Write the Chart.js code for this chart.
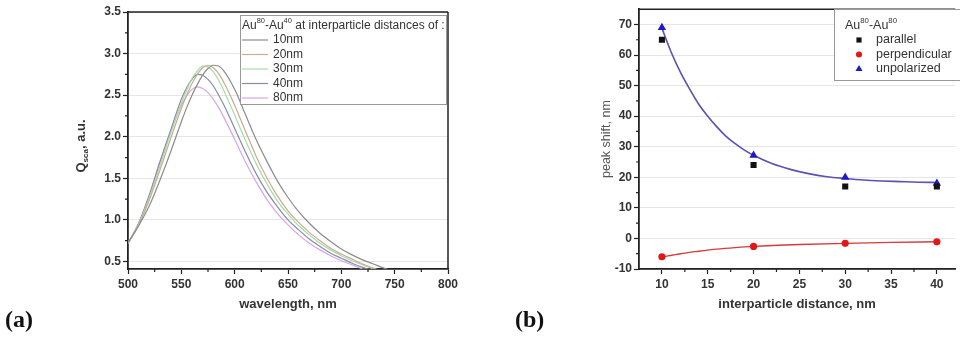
<!DOCTYPE html>
<html>
<head>
<meta charset="utf-8">
<script src="https://cdn.jsdelivr.net/npm/chart.js@4.4.0/dist/chart.umd.min.js"></script>
<style>
  body { margin: 0; background: #fff; width: 960px; height: 340px; overflow: hidden; position: relative; }
  .wrap { position: absolute; top: 0; width: 480px; height: 340px; }
  .tag { position: absolute; font: bold 24px "Liberation Serif", "DejaVu Serif", serif; color: #111; }
</style>
</head>
<body>
<div class="wrap" style="left:0"><canvas id="chartA" width="480" height="340"></canvas></div>
<div class="wrap" style="left:480px"><canvas id="chartB" width="480" height="340"></canvas></div>
<div class="tag" style="left:5px;top:306px">(a)</div>
<div class="tag" style="left:515px;top:306px">(b)</div>
<script>
/* ---------- DATA (a): scattering spectra ---------- */
const wavelength = [500,510,520,530,540,550,555,560,565,570,575,580,585,590,600,610,620,630,640,650,660,670,680,690,700,710,720,730,740,750];
const q10nm = [0.72,0.93,1.17,1.48,1.82,2.18,2.35,2.50,2.63,2.74,2.82,2.86,2.85,2.79,2.57,2.27,1.97,1.71,1.47,1.27,1.10,0.96,0.84,0.74,0.65,0.58,0.52,0.47,0.42,0.38];
const q20nm = [0.72,0.94,1.24,1.60,1.98,2.34,2.50,2.64,2.75,2.83,2.86,2.83,2.76,2.65,2.38,2.07,1.77,1.51,1.29,1.11,0.97,0.85,0.75,0.66,0.59,0.53,0.47,0.42,0.38,0.35];
const q30nm = [0.72,0.95,1.27,1.65,2.04,2.40,2.56,2.70,2.79,2.85,2.84,2.78,2.68,2.55,2.26,1.96,1.68,1.44,1.23,1.07,0.93,0.82,0.72,0.64,0.57,0.51,0.46,0.41,0.37,0.34];
const q40nm = [0.72,0.96,1.30,1.70,2.08,2.45,2.59,2.69,2.75,2.74,2.69,2.61,2.50,2.38,2.10,1.82,1.56,1.34,1.16,1.00,0.88,0.77,0.68,0.60,0.54,0.48,0.43,0.39,0.35,0.32];
const q80nm = [0.72,0.96,1.30,1.70,2.06,2.38,2.49,2.57,2.60,2.58,2.53,2.45,2.35,2.23,1.97,1.70,1.46,1.25,1.08,0.94,0.82,0.72,0.64,0.57,0.51,0.46,0.41,0.37,0.34,0.31];
const spectraLabels = ["10nm","20nm","30nm","40nm","80nm"];
const spectraColors = ["#8c8c8c","#c9ab91","#a6dca6","#8a8aa8","#d6a6e6"];
const xTicksA = [500,550,600,650,700,750,800];
const yTicksA = [0.5,1.0,1.5,2.0,2.5,3.0,3.5];

/* ---------- DATA (b): peak shift ---------- */
const distance = [10,20,30,40];
const parallel = [65,24,17,17];
const perpendicular = [-6,-2.6,-1.6,-1.1];
const unpolarized = [69,27.2,20,18];
const fitDistU = [10,11,12,13,14,15,16,17,18,19,20,22,24,26,28,30,32,34,36,38,40];
const fitUnpol = [68.8,61,54.5,49,44,40,36.5,33.4,31,28.9,27.2,24.5,22.6,21.2,20.2,19.6,19.1,18.8,18.6,18.4,18.3];
const fitDistP = [10,12,14,16,18,20,25,30,35,40];
const fitPerp = [-6.1,-5,-4.2,-3.5,-3,-2.6,-2,-1.6,-1.3,-1.1];
const xTicksB = [10,15,20,25,30,35,40];
const yTicksB = [-10,0,10,20,30,40,50,60,70];

const FONT = '"Liberation Sans", Arial, sans-serif';
const pts = (xs, ys) => xs.map((x, i) => ({ x: x, y: ys[i] }));
const fixTicks = list => scale => { scale.ticks = list.map(v => ({ value: v })); };

// text with raised (sup) or lowered (sub) small runs; returns end x
function richText(ctx, parts, x, y, size, weight) {
  let cx = x;
  parts.forEach(p => {
    const small = p.sup || p.sub;
    ctx.font = (weight || "") + " " + (small ? size * 0.62 : size) + "px " + FONT;
    const dy = p.sup ? -size * 0.4 : p.sub ? size * 0.25 : 0;
    ctx.fillText(p.t, cx, y + dy);
    cx += ctx.measureText(p.t).width;
  });
  return cx;
}
function richWidth(ctx, parts, size, weight) {
  let w = 0;
  parts.forEach(p => {
    ctx.font = (weight || "") + " " + ((p.sup || p.sub) ? size * 0.62 : size) + "px " + FONT;
    w += ctx.measureText(p.t).width;
  });
  return w;
}

/* ---------- PLUGINS ---------- */
// top/right frame lines and short minor ticks between the major ones
const frame = {
  id: "frame",
  afterDraw(chart, args, opts) {
    const { ctx, chartArea: a, scales } = chart;
    ctx.save();
    ctx.strokeStyle = "#222";
    ctx.lineWidth = 1.5;
    ctx.beginPath();
    ctx.moveTo(a.left, a.top); ctx.lineTo(a.right, a.top);
    if (opts.right) { ctx.moveTo(a.right, a.top); ctx.lineTo(a.right, a.bottom); }
    ctx.stroke();
    ctx.lineWidth = 1.2;
    ctx.beginPath();
    const sx = scales.x, sy = scales.y;
    for (let i = 0; i < sx.ticks.length - 1; i++) {
      const p = sx.getPixelForValue((sx.ticks[i].value + sx.ticks[i + 1].value) / 2);
      ctx.moveTo(p, a.bottom); ctx.lineTo(p, a.bottom + 3);
    }
    for (let i = 0; i < sy.ticks.length - 1; i++) {
      const p = sy.getPixelForValue((sy.ticks[i].value + sy.ticks[i + 1].value) / 2);
      ctx.moveTo(a.left - 3, p); ctx.lineTo(a.left, p);
    }
    ctx.stroke();
    ctx.restore();
  }
};

const legendA = {
  id: "legendA",
  afterDraw(chart) {
    const { ctx, chartArea: a } = chart;
    const x0 = 240, y0 = 15, w = a.right - 2 - x0, h = 89;
    ctx.save();
    ctx.fillStyle = "#fff";
    ctx.fillRect(x0, y0, w, h);
    ctx.strokeStyle = "#999";
    ctx.lineWidth = 1;
    ctx.strokeRect(x0 + 0.5, y0 + 0.5, w, h);
    ctx.fillStyle = "#333";
    ctx.textBaseline = "middle";
    richText(ctx, [{ t: "Au" }, { t: "80", sup: true }, { t: "-Au" }, { t: "40", sup: true },
      { t: " at interparticle distances of :" }], x0 + 2, y0 + 11, 12);
    ctx.font = "12px " + FONT;
    chart.data.datasets.forEach((ds, i) => {
      const yy = y0 + 25 + i * 14.5;
      ctx.strokeStyle = ds.borderColor;
      ctx.lineWidth = 1.2;
      ctx.beginPath(); ctx.moveTo(x0 + 2, yy); ctx.lineTo(x0 + 28, yy); ctx.stroke();
      ctx.fillText(ds.label, x0 + 33, yy);
    });
    // y title with subscript
    ctx.translate(80, 146);
    ctx.rotate(-Math.PI / 2);
    const parts = [{ t: "Q" }, { t: "sca", sub: true }, { t: ", a.u." }];
    const total = richWidth(ctx, parts, 13, "bold");
    ctx.textBaseline = "alphabetic";
    richText(ctx, parts, -total / 2, 4.5, 13, "bold");
    ctx.restore();
  }
};

const legendB = {
  id: "legendB",
  afterDraw(chart) {
    const { ctx } = chart;
    const x0 = 354, y0 = 9;
    ctx.save();
    ctx.fillStyle = "#fff";
    ctx.fillRect(x0, y0, 140, 71);
    ctx.strokeStyle = "#999";
    ctx.lineWidth = 1;
    ctx.strokeRect(x0 + 0.5, y0 + 0.5, 140, 71);
    ctx.fillStyle = "#333";
    ctx.textBaseline = "middle";
    richText(ctx, [{ t: "Au" }, { t: "80", sup: true }, { t: "-Au" }, { t: "80", sup: true }], x0 + 11, y0 + 17, 12.5);
    ctx.font = "12.5px " + FONT;
    chart.data.datasets.filter(ds => ds.showLine === false).forEach((ds, i) => {
      const yy = y0 + 31 + i * 14.5;
      ctx.fillStyle = ds.backgroundColor;
      ctx.strokeStyle = ds.backgroundColor;
      Chart.helpers.drawPoint(ctx, { pointStyle: ds.pointStyle, radius: ds.pointRadius * 0.85, rotation: 0, borderWidth: 0 }, x0 + 25, yy);
      ctx.fillStyle = "#333";
      ctx.fillText(ds.label, x0 + 42, yy);
    });
    ctx.restore();
  }
};

/* ---------- CHART (a) ---------- */
const seriesA = [q10nm, q20nm, q30nm, q40nm, q80nm];
new Chart(document.getElementById("chartA"), {
  type: "line",
  data: {
    datasets: seriesA.map((s, i) => ({
      label: spectraLabels[i],
      data: pts(wavelength, s),
      borderColor: spectraColors[i],
      borderWidth: 1.2,
      pointRadius: 0,
      cubicInterpolationMode: "monotone"
    }))
  },
  options: {
    responsive: false,
    animation: false,
    events: [],
    layout: { padding: { left: 0, right: 32, top: 12, bottom: 0 } },
    plugins: { legend: { display: false }, tooltip: { enabled: false }, frame: { right: true } },
    scales: {
      x: {
        type: "linear", min: 500, max: 800,
        afterBuildTicks: fixTicks(xTicksA),
        afterFit: s => { s.height = 71; },
        ticks: { font: { family: FONT, size: 12, weight: "bold" }, color: "#333", padding: 3 },
        grid: { drawOnChartArea: false, tickLength: 5, tickColor: "#222", tickWidth: 1.2 },
        border: { color: "#222", width: 1.8 },
        title: { display: true, text: "wavelength, nm", font: { family: FONT, size: 13, weight: "bold" }, color: "#333", padding: { top: 0, bottom: 28 } }
      },
      y: {
        type: "linear", min: 0.41, max: 3.5,
        afterBuildTicks: fixTicks(yTicksA),
        afterFit: s => { s.width = 128; },
        ticks: { font: { family: FONT, size: 12, weight: "bold" }, color: "#333", padding: 2, callback: v => v.toFixed(1) },
        grid: { color: "#e6e6e6", tickLength: 5, tickColor: "#222", tickWidth: 1.2 },
        border: { color: "#222", width: 1.8 }
      }
    }
  },
  plugins: [frame, legendA]
});

/* ---------- CHART (b) ---------- */
new Chart(document.getElementById("chartB"), {
  type: "line",
  data: {
    datasets: [
      { label: "parallel", data: pts(distance, parallel), showLine: false, pointStyle: "rect", pointRadius: 4.3, backgroundColor: "#111", borderWidth: 0 },
      { label: "perpendicular", data: pts(distance, perpendicular), showLine: false, pointStyle: "circle", pointRadius: 3.6, backgroundColor: "#e01818", borderWidth: 0 },
      { label: "unpolarized", data: pts(distance, unpolarized), showLine: false, pointStyle: "triangle", pointRadius: 4.8, backgroundColor: "#1a1acc", borderWidth: 0 },
      { label: "fit unpolarized", data: pts(fitDistU, fitUnpol), borderColor: "#5e50b4", borderWidth: 1.6, pointRadius: 0, cubicInterpolationMode: "monotone" },
      { label: "fit perpendicular", data: pts(fitDistP, fitPerp), borderColor: "#d83a3a", borderWidth: 1.4, pointRadius: 0, cubicInterpolationMode: "monotone" }
    ]
  },
  options: {
    responsive: false,
    animation: false,
    events: [],
    layout: { padding: { left: 0, right: 0, top: 7, bottom: 0 } },
    plugins: { legend: { display: false }, tooltip: { enabled: false }, frame: { right: false } },
    scales: {
      x: {
        type: "linear", min: 7.5, max: 42,
        afterBuildTicks: fixTicks(xTicksB),
        afterFit: s => { s.height = 71; },
        ticks: { font: { family: FONT, size: 12, weight: "bold" }, color: "#333", padding: 3 },
        grid: { drawOnChartArea: false, tickLength: 5, tickColor: "#222", tickWidth: 1.2 },
        border: { color: "#222", width: 1.8 },
        title: { display: true, text: "interparticle distance, nm", font: { family: FONT, size: 13, weight: "bold" }, color: "#333", padding: { top: 0, bottom: 28 } }
      },
      y: {
        type: "linear", min: -10, max: 75,
        afterBuildTicks: fixTicks(yTicksB),
        afterFit: s => { s.width = 159; },
        ticks: { font: { family: FONT, size: 12, weight: "bold" }, color: "#333", padding: 2 },
        grid: { color: "#e6e6e6", tickLength: 5, tickColor: "#222", tickWidth: 1.2 },
        border: { color: "#222", width: 1.8 },
        title: { display: true, text: "peak shift, nm", font: { family: FONT, size: 12.5 }, color: "#555", padding: { top: 119, bottom: 0 } }
      }
    }
  },
  plugins: [frame, legendB]
});
</script>
</body>
</html>
